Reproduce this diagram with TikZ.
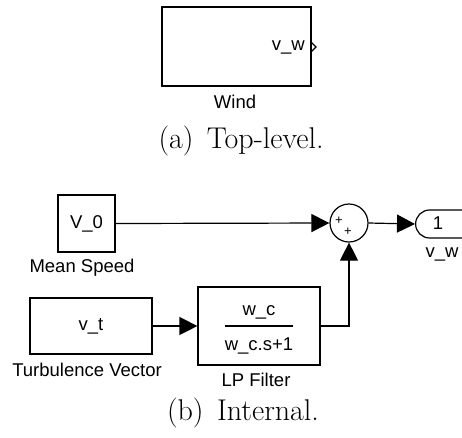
\documentclass[tikz,border=0pt]{standalone}
\usepackage{fontspec}
\setsansfont{Liberation Sans}
\usetikzlibrary{arrows.meta,shapes.misc}
\tikzset{
  blk/.style={draw,line width=1.2pt,inner sep=0pt,font=\fontsize{18.5}{20}\sffamily},
  lbl/.style={inner sep=0pt,font=\fontsize{18.5}{20}\sffamily},
  capt/.style={inner sep=0pt,font=\fontsize{30}{34}\selectfont},
  conn/.style={line width=1.2pt,-{Triangle[length=18pt,width=18pt]}},
  plain/.style={line width=1.2pt}
}
\begin{document}
\begin{tikzpicture}[x=1pt,y=-1pt]
\path[use as bounding box] (0,0) rectangle (462,437);
\clip (0,0) rectangle (462,437);
% (a) top level
\node[blk,minimum width=149pt,minimum height=79pt] (wind) at (236.5,46.5) {};
\node[lbl,anchor=east] (windport) at (305,47) {v\_w};
\draw[plain] (311,42) coordinate (p1) -- (316,47) -- (311,52);
\node[lbl] (windlbl) at (235,102) {Wind};
\node[capt] (capa) at (241,141) {(a)\hspace{0.45em}Top-level.};
% (b) internal
\node[blk,minimum width=57pt,minimum height=57pt] (v0) at (86.5,223.5) {V\_0};
\node[lbl] (v0lbl) at (82,268) {Mean Speed};
\node[blk,minimum width=122pt,minimum height=56pt] (vt) at (91,326) {v\_t};
\node[lbl] (vtlbl) at (87,370) {Turbulence Vector};
\node[blk,minimum width=122pt,minimum height=78pt] (lp) at (259,326) {};
\node[lbl] (num) at (259,312) {w\_c};
\node[lbl] (den) at (259,346) {w\_c.s+1};
\coordinate (fl) at (225,326);
\coordinate (fr) at (293,326);
\draw[plain] (fl) -- (fr);
\node[lbl] (lplbl) at (256,380) {LP Filter};
\node[draw,circle,line width=1.2pt,minimum size=38pt,inner sep=0pt] (sum) at (349,223) {};
\node[inner sep=0pt,font=\fontsize{13}{14}\sffamily] (plus1) at (339,221) {+};
\node[inner sep=0pt,font=\fontsize{13}{14}\sffamily] (plus2) at (348,232) {+};
\node[draw,line width=1.2pt,rounded rectangle,rounded rectangle right arc=none,minimum width=70pt,minimum height=28pt,inner sep=0pt,anchor=west] (out) at (415,224) {};
\node[lbl] (one) at (438,223) {1};
\node[lbl] (outlbl) at (442,254) {v\_w};
\draw[conn] (v0.east) -- (sum.west);
\draw[conn] (vt.east) -- (lp.west);
\draw[conn] (lp.east) -| (sum.south);
\draw[conn] (sum.east) -- (out.west);
\node[capt] (capb) at (243,413) {(b)\hspace{0.45em}Internal.};
\end{tikzpicture}
\end{document}
